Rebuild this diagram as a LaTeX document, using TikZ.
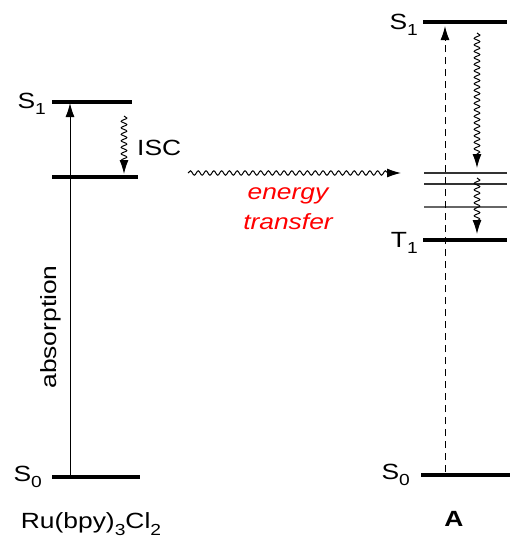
\documentclass[tikz,border=0pt]{standalone}
\usepackage{fontspec}
\setmainfont{Liberation Sans}[FakeStretch=1.2]
\usetikzlibrary{decorations.pathmorphing,arrows.meta}
\newcommand{\sbs}[1]{\raisebox{-0.3em}{\fontsize{16}{16}\selectfont #1}}
\begin{document}
\begin{tikzpicture}[x=1pt,y=-1pt,
  level/.style={line width=4pt},
  sublevel/.style={line width=1.1pt, draw=black!80},
  lbl/.style={font=\fontsize{22}{24}\selectfont, inner sep=0pt},
  tip/.style={-{Latex[length=14pt,width=9pt]}},
  wavy/.style={tip, line width=1pt, decorate, decoration={snake, amplitude=2.8pt, segment length=6.5pt, post length=11pt}},
  wavyh/.style={tip, line width=1pt, decorate, decoration={snake, amplitude=2.2pt, segment length=7.8pt, post length=13pt}}]
\useasboundingbox (0,0) rectangle (521,550);
% left levels
\coordinate (LS1a) at (52,102); \coordinate (LS1b) at (132,102);
\coordinate (LT1a) at (52,177); \coordinate (LT1b) at (138,177);
\coordinate (LS0a) at (52,477); \coordinate (LS0b) at (140,477);
\draw[level] (LS1a) -- (LS1b);
\draw[level] (LT1a) -- (LT1b);
\draw[level] (LS0a) -- (LS0b);
\node[lbl, anchor=east] (lS1) at (46,104) {S\sbs{1}};
\node[lbl, anchor=east] (lS0) at (42,477) {S\sbs{0}};
\node[lbl] (ru) at (91,524) {Ru(bpy)\sbs{3}Cl\sbs{2}};
% absorption
\coordinate (absB) at (70,475); \coordinate (absT) at (70,103);
\draw[tip, line width=1pt] (absB) -- (absT);
\node[lbl, rotate=90] (absl) at (51,327) {absorption};
% ISC
\coordinate (iscT) at (124,116); \coordinate (iscB) at (124,174);
\draw[wavy] (iscT) -- (iscB);
\node[lbl, anchor=west] (isc) at (137,148) {ISC};
% energy transfer
\coordinate (etA) at (188,173); \coordinate (etB) at (401,173);
\draw[wavyh] (etA) -- (etB);
\node[lbl, text=red, font=\fontsize{22}{30}\selectfont\itshape, align=center] (et) at (288,209) {energy\\transfer};
% right levels
\coordinate (RS1a) at (423,22); \coordinate (RS1b) at (507,22);
\coordinate (RT1a) at (423,240); \coordinate (RT1b) at (507,240);
\coordinate (RS0a) at (421,475); \coordinate (RS0b) at (510,475);
\draw[level] (RS1a) -- (RS1b);
\draw[level] (RT1a) -- (RT1b);
\draw[level] (RS0a) -- (RS0b);
\coordinate (v1a) at (424,173); \coordinate (v1b) at (507,173);
\coordinate (v2a) at (424,184); \coordinate (v2b) at (507,184);
\coordinate (v3a) at (424,207); \coordinate (v3b) at (507,207);
\draw[sublevel] (v1a) -- (v1b);
\draw[sublevel] (v2a) -- (v2b);
\draw[sublevel, draw=black!60] (v3a) -- (v3b);
\node[lbl, anchor=east] (rS1) at (418,25) {S\sbs{1}};
\node[lbl, anchor=east] (rT1) at (418,243) {T\sbs{1}};
\node[lbl, anchor=east] (rS0) at (410,475) {S\sbs{0}};
\node[lbl, font=\fontsize{22}{24}\selectfont\bfseries] (A) at (454,519) {A};
% dashed excitation
\coordinate (dB) at (445,472); \coordinate (dT) at (445,26);
\draw[tip, dashed, dash pattern=on 7pt off 5pt, line width=1pt] (dB) -- (dT);
% relaxation
\coordinate (r1T) at (477,33); \coordinate (r1B) at (477,168);
\draw[wavy] (r1T) -- (r1B);
\coordinate (r2T) at (477,178); \coordinate (r2B) at (477,234);
\draw[wavy] (r2T) -- (r2B);
\end{tikzpicture}
\end{document}
